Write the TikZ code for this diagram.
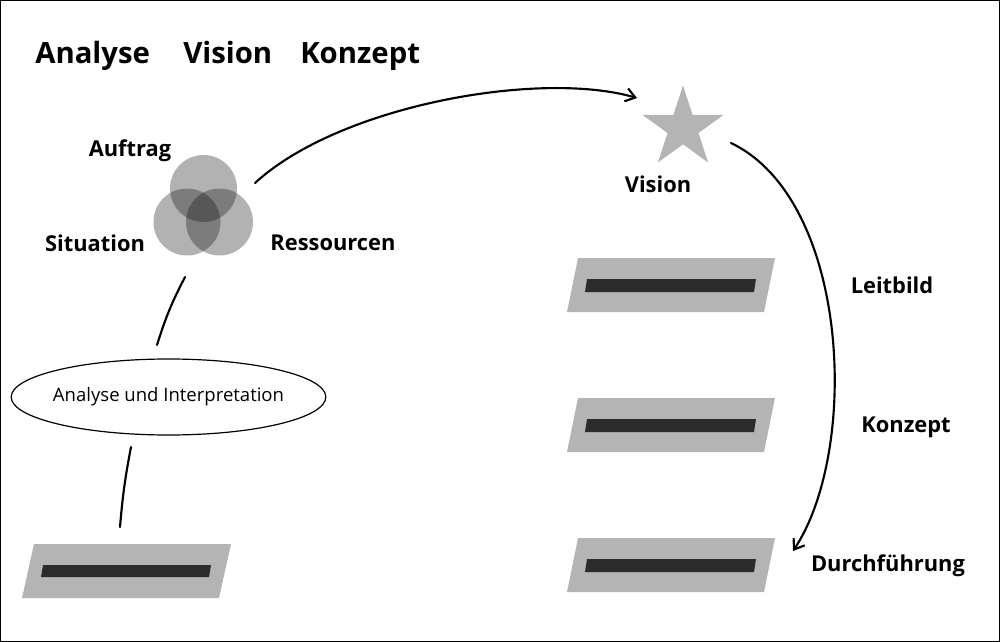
\documentclass[tikz,border=0pt]{standalone}
\usepackage{fontspec}
\setmainfont{Open Sans}
\usetikzlibrary{shapes.geometric,arrows.meta}
\definecolor{panel}{RGB}{180,180,180}
\definecolor{bar}{RGB}{43,43,43}
\tikzset{
  title/.style={font=\bfseries\fontsize{22}{26}\selectfont, inner sep=0, anchor=base west},
  lbl/.style={font=\bfseries\fontsize{16.4}{20}\selectfont, inner sep=0},
  conn/.style={line width=1.6pt, line cap=round},
  arr/.style={conn, -{Straight Barb[length=7pt,width=10pt,line width=1.6pt]}},
  venn/.style={fill=black, fill opacity=0.3},
  panelbox/.style={fill=panel},
  barbox/.style={fill=bar},
}
\begin{document}
\begin{tikzpicture}[x=0.75pt,y=-0.75pt]
\useasboundingbox (0,0) rectangle (1000,642);
\draw[line width=0.75pt] (0.5,0.5) rectangle (999.5,641.5);

% titles
\node[title] (t1) at (35,64) {Analyse};
\node[title] (t2) at (183,64) {Vision};
\node[title] (t3) at (300,64) {Konzept};

% venn
\fill[venn] (203.5,188.5) circle (33.5);
\fill[venn] (187,222) circle (33.5);
\fill[venn] (219.5,222) circle (33.5);
\node[lbl] (auftrag) at (130,151) {Auftrag};
\node[lbl] (situation) at (95,243) {Situation};
\node[lbl] (ressourcen) at (333,243) {Ressourcen};

% star
\node[star, star points=5, star point ratio=2.618, minimum size=64pt, fill=panel, inner sep=0] (star) at (683,128) {};
\node[lbl] (vision) at (658,184) {Vision};

% ellipse
\node[ellipse, draw, line width=0.9pt, minimum width=236pt, minimum height=57pt, inner sep=0] (ana) at (168.5,397) {};
\node[font=\fontsize{13.9}{17}\selectfont, inner sep=0] (anatxt) at (ana.center) {Analyse und Interpretation};

% panels
\foreach \dy in {0,140,280}{
  \fill[panelbox] (578,258+\dy) -- (775,258+\dy) -- (764,312+\dy) -- (567,312+\dy) -- cycle;
  \fill[barbox] (587,279+\dy) -- (756,279+\dy) -- (754,292+\dy) -- (585,292+\dy) -- cycle;
}
\fill[panelbox] (34,544) -- (231,544) -- (219,598) -- (22,598) -- cycle;
\fill[barbox] (43,565) -- (211,565) -- (209,577) -- (41,577) -- cycle;

\node[lbl] (leitbild) at (892,285) {Leitbild};
\node[lbl] (konzept) at (906,427) {Konzept};
\node[lbl] (durch) at (888,566) {Durchführung};

% connectors
\coordinate (a1s) at (255,183);
\coordinate (a1e) at (637,98);
\coordinate (a2s) at (731,143);
\coordinate (a2e) at (793,551);
\coordinate (l1s) at (185,277);
\coordinate (l1e) at (157,345);
\coordinate (l2s) at (131,447);
\coordinate (l2e) at (120,527);
\draw[arr] (a1s) .. controls (340,105) and (540,70) .. (a1e);
\draw[arr] (a2s) .. controls (850,200) and (860,450) .. (a2e);
\draw[conn] (l1s) to[bend right=5] (l1e);
\draw[conn] (l2s) to[bend right=3] (l2e);
\end{tikzpicture}
\end{document}
